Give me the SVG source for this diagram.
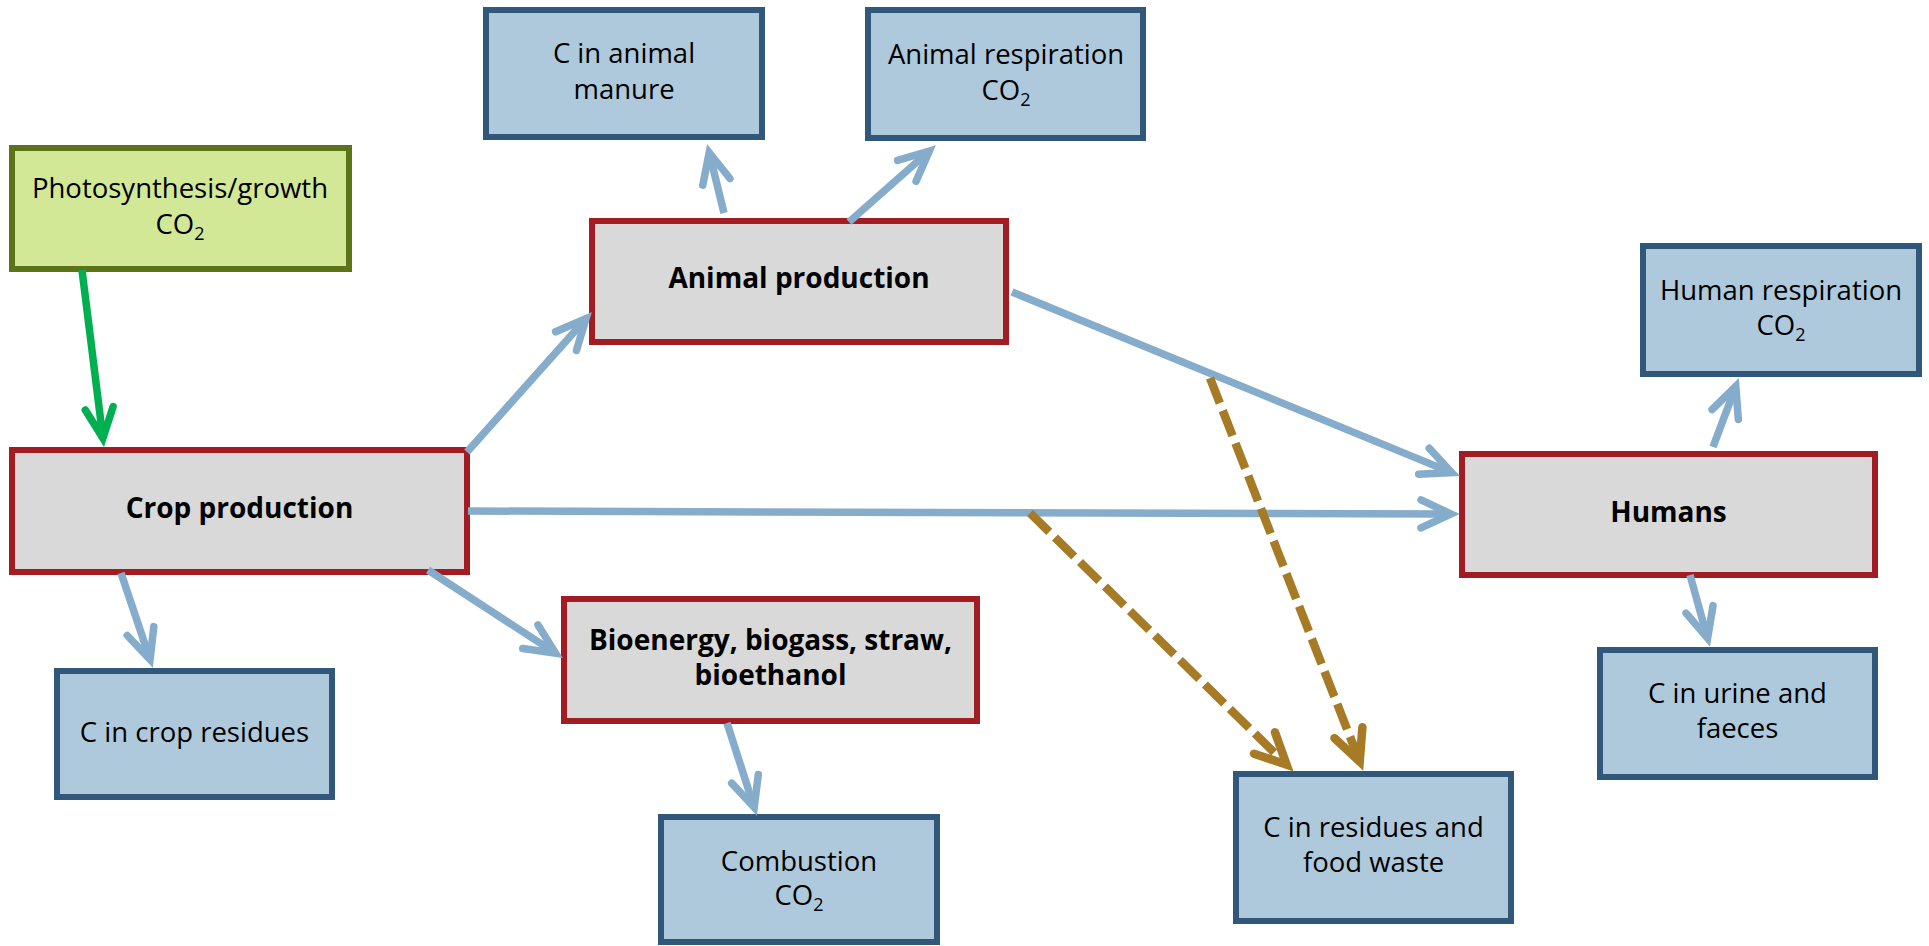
<svg xmlns="http://www.w3.org/2000/svg" width="1929" height="946" viewBox="0 0 1929 946">
<style>
.box rect{stroke-width:6}
.blue rect{fill:#AFC9DC;stroke:#31587A}
.gray rect{fill:#D9D9D9;stroke:#A21C23}
.green rect{fill:#D3E897;stroke:#5A7417}
text{font-family:"Open Sans","Noto Sans","DejaVu Sans",sans-serif;font-size:27.5px;fill:#000;text-anchor:middle}
text.b{font-weight:bold;font-size:28px}
.sub{font-size:18px}
.c{fill:none;stroke-width:7.5}
.cb{stroke:#86ACCC;marker-end:url(#ab)}
.cg{stroke:#00B050;marker-end:url(#ag)}
.cy{stroke:#A77B26;stroke-width:8.5;stroke-dasharray:27 8;marker-end:url(#ay)}
</style>
<defs>
<marker id="ab" viewBox="-40 -20 50 40" markerWidth="50" markerHeight="40" refX="0" refY="0" orient="auto" markerUnits="userSpaceOnUse"><path d="M-30,-14 L0,0 L-30,14" fill="none" stroke="#86ACCC" stroke-width="7.5" stroke-linecap="round" stroke-linejoin="miter"/></marker>
<marker id="ag" viewBox="-40 -20 50 40" markerWidth="50" markerHeight="40" refX="0" refY="0" orient="auto" markerUnits="userSpaceOnUse"><path d="M-30,-14 L0,0 L-30,14" fill="none" stroke="#00B050" stroke-width="7.5" stroke-linecap="round" stroke-linejoin="miter"/></marker>
<marker id="ay" viewBox="-40 -20 50 40" markerWidth="50" markerHeight="40" refX="0" refY="0" orient="auto" markerUnits="userSpaceOnUse"><path d="M-31,-15 L0,0 L-31,15" fill="none" stroke="#A77B26" stroke-width="8.5" stroke-linecap="round" stroke-linejoin="miter"/></marker>
</defs>
<rect width="1929" height="946" fill="#fff"/>

<g id="photosynthesis" class="box green"><rect x="12" y="148" width="337" height="121"/><text x="180" y="198">Photosynthesis/growth</text><text x="180" y="234">CO<tspan class="sub" dy="6">2</tspan></text></g>
<g id="manure" class="box blue"><rect x="486" y="10" width="276" height="127"/><text x="624" y="63">C in animal</text><text x="624" y="99">manure</text></g>
<g id="animal-respiration" class="box blue"><rect x="868" y="10" width="275" height="128"/><text x="1006" y="64">Animal respiration</text><text x="1006" y="100">CO<tspan class="sub" dy="6">2</tspan></text></g>
<g id="animal-production" class="box gray"><rect x="592" y="221" width="414" height="121"/><text class="b" x="799" y="288">Animal production</text></g>
<g id="human-respiration" class="box blue"><rect x="1643" y="246" width="276" height="128"/><text x="1781" y="300">Human respiration</text><text x="1781" y="335">CO<tspan class="sub" dy="6">2</tspan></text></g>
<g id="crop-production" class="box gray"><rect x="12" y="450" width="455" height="122"/><text class="b" x="239.5" y="518">Crop production</text></g>
<g id="humans" class="box gray"><rect x="1462" y="454" width="413" height="121"/><text class="b" x="1668.5" y="522">Humans</text></g>
<g id="crop-residues" class="box blue"><rect x="57" y="671" width="275" height="126"/><text x="194.5" y="742">C in crop residues</text></g>
<g id="bioenergy" class="box gray"><rect x="564" y="599" width="413" height="122"/><text class="b" x="770.5" y="650">Bioenergy, biogass, straw,</text><text class="b" x="770.5" y="685">bioethanol</text></g>
<g id="urine" class="box blue"><rect x="1600" y="650" width="275" height="127"/><text x="1737.5" y="703">C in urine and</text><text x="1737.5" y="738">faeces</text></g>
<g id="combustion" class="box blue"><rect x="661" y="817" width="276" height="125"/><text x="799" y="871">Combustion</text><text x="799" y="905">CO<tspan class="sub" dy="6">2</tspan></text></g>
<g id="food-waste" class="box blue"><rect x="1236" y="774" width="275" height="147"/><text x="1373.5" y="837">C in residues and</text><text x="1373.5" y="872">food waste</text></g>

<g id="connectors">
<path class="c cg" d="M82,270 L102.9,438.1"/>
<path class="c cb" d="M467,452 L586,318.7"/>
<path class="c cb" d="M724,213 L709.2,152.7"/>
<path class="c cb" d="M849,222 L929.3,151"/>
<path class="c cb" d="M1012,292 L1451.7,472.6"/>
<path class="c cb" d="M468,511 L1451,514"/>
<path class="c cb" d="M121,573 L150.1,659.5"/>
<path class="c cb" d="M428,570 L555.5,653.1"/>
<path class="c cb" d="M727,723 L754.2,807.4"/>
<path class="c cb" d="M1713,447 L1735.8,386.4"/>
<path class="c cb" d="M1690,575 L1707.6,638.3"/>
<path class="c cy" d="M1210,378 L1359.7,761.6"/>
<path class="c cy" d="M1030,513 L1286.6,764.7"/>
</g>
</svg>
